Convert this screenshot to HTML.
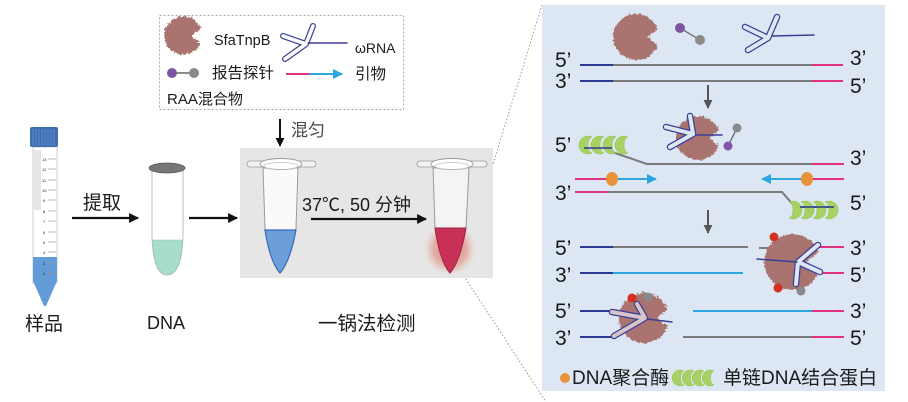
<!DOCTYPE html>
<html><head><meta charset="utf-8"><style>
html,body{margin:0;padding:0;background:#fff;}
svg{display:block;}
text{font-family:"Liberation Sans","Noto Sans CJK SC",sans-serif;fill:#1a1a1a;}
</style></head><body>
<svg width="908" height="402" viewBox="0 0 908 402" xmlns="http://www.w3.org/2000/svg">
<defs>
<filter id="rough" x="-30%" y="-30%" width="160%" height="160%">
<feTurbulence type="fractalNoise" baseFrequency="0.45" numOctaves="2" seed="3" result="n"/>
<feDisplacementMap in="SourceGraphic" in2="n" scale="5" xChannelSelector="R" yChannelSelector="G"/>
</filter>
<radialGradient id="glow" cx="0.5" cy="0.5" r="0.5">
<stop offset="0" stop-color="#d9504a" stop-opacity="0.75"/>
<stop offset="0.65" stop-color="#e07a66" stop-opacity="0.5"/>
<stop offset="1" stop-color="#e8a890" stop-opacity="0"/>
</radialGradient>
<marker id="bk" viewBox="0 0 10 10" refX="9" refY="5" markerWidth="4.5" markerHeight="4.5" orient="auto"><path d="M0,0 L10,5 L0,10 Z" fill="#111"/></marker>
<marker id="gy" viewBox="0 0 10 10" refX="9" refY="5" markerWidth="4.5" markerHeight="4.5" orient="auto"><path d="M0,0 L10,5 L0,10 Z" fill="#555"/></marker>
<marker id="bl" viewBox="0 0 10 10" refX="9" refY="5" markerWidth="5" markerHeight="5" orient="auto"><path d="M0,0 L10,5 L0,10 Z" fill="#2ba6df"/></marker>
</defs>

<line x1="542" y1="5" x2="466" y2="252" stroke="#999" stroke-width="1" stroke-dasharray="1.5 2"/>
<line x1="460" y1="270" x2="546" y2="402" stroke="#999" stroke-width="1" stroke-dasharray="1.5 2"/>

<rect x="159.5" y="15.5" width="244" height="94" fill="#fff" stroke="#aaa" stroke-width="1" stroke-dasharray="2 2"/>
<path d="M200.8,28 A19 19 0 1 0 200.8,43 L191,36 Z" fill="#a9736f" filter="url(#rough)"/>
<text x="214" y="45" font-size="14.5">SfaTnpB</text>
<g fill="none" stroke-linecap="round" stroke-linejoin="round">
<path d="M306,44 L283,36 M306,44 L285,59 M306,44 L313,26" stroke="#3b3f97" stroke-width="6"/>
<path d="M306,44 L283,36 M306,44 L285,59 M306,44 L313,26" stroke="#fff" stroke-width="3.6"/>
<path d="M308,43 L347,43" stroke="#3b3f97" stroke-width="1.5"/>
</g>
<text x="355" y="53" font-size="14">ωRNA</text>
<line x1="172" y1="73" x2="194" y2="73" stroke="#666" stroke-width="1.5"/>
<circle cx="172" cy="73" r="5" fill="#7d55a4"/>
<circle cx="194" cy="73" r="5" fill="#8a8a8a"/>
<text x="212" y="78" font-size="15.5">报告探针</text>
<line x1="286" y1="74" x2="309" y2="74" stroke="#e2327f" stroke-width="2"/>
<line x1="309" y1="74" x2="342" y2="74" stroke="#2ba6df" stroke-width="2" marker-end="url(#bl)"/>
<text x="355" y="79" font-size="15.5">引物</text>
<text x="167" y="104" font-size="15">RAA混合物</text>

<line x1="280" y1="119" x2="280" y2="146" stroke="#111" stroke-width="2" marker-end="url(#bk)"/>
<text x="291" y="136" font-size="17" style="fill:#444">混匀</text>

<rect x="33" y="147" width="24" height="136" fill="#fff" stroke="#cfcfcf" stroke-width="1"/>
<rect x="34" y="150" width="7" height="60" fill="#e6e6e6"/>
<path d="M33,257 L57,257 L57,281 L46,306 L44,306 L33,281 Z" fill="#639ad8"/>
<g stroke="#999" stroke-width="0.7">
<line x1="48" y1="159" x2="56" y2="159"/><line x1="48" y1="169" x2="56" y2="169"/><line x1="48" y1="180" x2="56" y2="180"/><line x1="48" y1="190" x2="56" y2="190"/><line x1="48" y1="200" x2="56" y2="200"/><line x1="48" y1="211" x2="56" y2="211"/><line x1="48" y1="221" x2="56" y2="221"/><line x1="48" y1="232" x2="56" y2="232"/><line x1="48" y1="242" x2="56" y2="242"/><line x1="48" y1="252" x2="56" y2="252"/><line x1="48" y1="263" x2="56" y2="263"/><line x1="48" y1="273" x2="56" y2="273"/>
</g>
<g font-size="4" style="fill:#777">
<text x="42" y="161">13</text><text x="42" y="171">12</text><text x="42" y="182">11</text><text x="42" y="192">10</text><text x="43" y="202">9</text><text x="43" y="213">8</text><text x="43" y="223">7</text><text x="43" y="234">6</text><text x="43" y="244">5</text><text x="43" y="254">4</text><text x="43" y="265">3</text><text x="43" y="275">2</text>
</g>
<rect x="30" y="127" width="28" height="20" rx="2" fill="#3e6db2"/>
<g stroke="#5d8ccc" stroke-width="1"><line x1="33" y1="129" x2="33" y2="146"/><line x1="36" y1="129" x2="36" y2="146"/><line x1="39" y1="129" x2="39" y2="146"/><line x1="42" y1="129" x2="42" y2="146"/><line x1="45" y1="129" x2="45" y2="146"/><line x1="48" y1="129" x2="48" y2="146"/><line x1="51" y1="129" x2="51" y2="146"/><line x1="54" y1="129" x2="54" y2="146"/></g>
<text x="25" y="330" font-size="19">样品</text>

<text x="83" y="209" font-size="19">提取</text>
<line x1="72" y1="218" x2="138" y2="218" stroke="#111" stroke-width="2.2" marker-end="url(#bk)"/>

<path d="M152,170 L152,235 Q153,275 167,275 Q182,275 183,235 L183,170 Z" fill="#fff" stroke="#bdbdbd" stroke-width="1"/>
<path d="M152.5,240 L182.5,240 Q181,274 167,274.5 Q154,274 152.5,240 Z" fill="#a8dccd" stroke="#8fc7b8" stroke-width="0.6"/>
<ellipse cx="167" cy="168" rx="18" ry="5" fill="#777" stroke="#555" stroke-width="0.8"/>
<text x="147" y="329" font-size="18">DNA</text>
<line x1="189" y1="218" x2="237" y2="218" stroke="#111" stroke-width="2.2" marker-end="url(#bk)"/>

<rect x="240" y="148" width="253" height="130" fill="#e6e6e6"/>
<path d="M263,168 L265,228 Q270,262 280,273 Q290,262 296,228 L298,168 Z" fill="#fafafa" stroke="#9a9a9a" stroke-width="1"/>
<path d="M265,230 L296,230 Q290,262 280,273 Q270,262 265,230 Z" fill="#6c9fda" stroke="#3a6bb5" stroke-width="1.2"/>
<rect x="247" y="161" width="69" height="6" rx="3" fill="#f2f2f2" stroke="#999" stroke-width="0.8"/>
<ellipse cx="281" cy="164" rx="21" ry="5.5" fill="#fff" stroke="#999" stroke-width="0.9"/>
<ellipse cx="281" cy="166" rx="17" ry="3.5" fill="none" stroke="#bbb" stroke-width="0.7"/>
<text x="302" y="211" font-size="18">37℃, 50 分钟</text>
<line x1="311" y1="219" x2="426" y2="219" stroke="#111" stroke-width="2.2" marker-end="url(#bk)"/>
<circle cx="450" cy="249" r="26" fill="url(#glow)"/>
<path d="M433,168 L435,228 Q440,262 450,273 Q460,262 466,228 L469,168 Z" fill="#fafafa" fill-opacity="0.7" stroke="#9a9a9a" stroke-width="1"/>
<path d="M435,228 L466,228 Q460,262 450,273 Q440,262 435,228 Z" fill="#c83058" stroke="#9a2a40" stroke-width="1"/>
<rect x="417" y="161" width="70" height="6" rx="3" fill="#f2f2f2" stroke="#999" stroke-width="0.8"/>
<ellipse cx="452" cy="164" rx="21" ry="5.5" fill="#fff" stroke="#999" stroke-width="0.9"/>
<ellipse cx="452" cy="166" rx="17" ry="3.5" fill="none" stroke="#bbb" stroke-width="0.7"/>
<text x="318" y="330" font-size="19.5">一锅法检测</text>

<rect x="542" y="5" width="343" height="386" fill="#dce7f3"/>

<path d="M657.6,29 A23 23 0 1 0 657.6,45 L647.5,37 Z" fill="#a9736f" filter="url(#rough)"/>
<line x1="680" y1="28" x2="700" y2="40" stroke="#666" stroke-width="1.3"/>
<circle cx="680" cy="28" r="5" fill="#7d55a4"/>
<circle cx="700" cy="40" r="5" fill="#8a8a8a"/>
<g fill="none" stroke-linecap="round" stroke-linejoin="round">
<path d="M768,38 L745,27 M768,38 L748,50 M768,38 L777,17" stroke="#3b3f97" stroke-width="6.5"/>
<path d="M768,38 L745,27 M768,38 L748,50 M768,38 L777,17" stroke="#dce7f3" stroke-width="4"/>
<path d="M772,36 L814,35" stroke="#3b3f97" stroke-width="1.5"/>
</g>
<g stroke-width="2">
<line x1="580" y1="65" x2="613" y2="65" stroke="#2b3a8f"/><line x1="613" y1="65" x2="812" y2="65" stroke="#7a7a7a"/><line x1="812" y1="65" x2="843" y2="65" stroke="#e2327f"/>
<line x1="580" y1="81" x2="613" y2="81" stroke="#2b3a8f"/><line x1="613" y1="81" x2="812" y2="81" stroke="#7a7a7a"/><line x1="812" y1="81" x2="843" y2="81" stroke="#e2327f"/>
</g>
<g font-size="21">
<text x="555" y="67">5’</text><text x="850" y="65">3’</text>
<text x="555" y="88">3’</text><text x="850" y="93">5’</text>
</g>
<line x1="708" y1="85" x2="708" y2="108" stroke="#555" stroke-width="2" marker-end="url(#gy)"/>

<g stroke-width="2" fill="none">
<path d="M612,152 L647,164 L812,164" stroke="#7a7a7a"/><line x1="812" y1="164" x2="844" y2="164" stroke="#e2327f"/>
<line x1="575" y1="179" x2="607" y2="179" stroke="#e2327f"/><line x1="612" y1="179" x2="656" y2="179" stroke="#2ba6df" marker-end="url(#bl)"/>
<line x1="810" y1="179" x2="844" y2="179" stroke="#e2327f"/><line x1="805" y1="179" x2="762" y2="179" stroke="#2ba6df" marker-end="url(#bl)"/>
<line x1="575" y1="192" x2="607" y2="192" stroke="#e2327f"/><path d="M607,192 L782,192 L795,207 L835,207" stroke="#7a7a7a"/>
</g>
<ellipse cx="612" cy="179" rx="6" ry="7" fill="#e8923a"/>
<ellipse cx="807" cy="179" rx="6" ry="7" fill="#e8923a"/>
<g fill="#a7d163" stroke="#8fbf4c" stroke-width="0.5">
<path d="M592,137 A9 9 0 1 0 592,153 A4 8 0 0 1 592,137 Z"/>
<path d="M604,137 A9 9 0 1 0 604,153 A4 8 0 0 1 604,137 Z"/>
<path d="M616,137 A9 9 0 1 0 616,153 A4 8 0 0 1 616,137 Z"/>
<path d="M628,137 A9 9 0 1 0 628,153 A4 8 0 0 1 628,137 Z"/>
</g>
<line x1="584" y1="148" x2="612" y2="148" stroke="#2b3a8f" stroke-width="1.5"/>
<g fill="#a7d163" stroke="#8fbf4c" stroke-width="0.5">
<path d="M789,202 A9 9 0 1 1 789,218 A4 8 0 0 0 789,202 Z"/>
<path d="M801,202 A9 9 0 1 1 801,218 A4 8 0 0 0 801,202 Z"/>
<path d="M813,202 A9 9 0 1 1 813,218 A4 8 0 0 0 813,202 Z"/>
<path d="M825,202 A9 9 0 1 1 825,218 A4 8 0 0 0 825,202 Z"/>
</g>
<line x1="800" y1="207" x2="834" y2="207" stroke="#2b3a8f" stroke-width="1.5"/>
<path d="M718.7,130.5 A22 22 0 1 0 718.7,145.5 L709,138 Z" fill="#a9736f" filter="url(#rough)"/>
<g fill="none" stroke-linecap="round" stroke-linejoin="round">
<path d="M693,134 L666,127 M693,134 L670,147 M693,134 L690,116" stroke="#3b3f97" stroke-width="6.5"/>
<path d="M693,134 L666,127 M693,134 L670,147 M693,134 L690,116" stroke="#dce7f3" stroke-width="4"/>
<path d="M696,135 L722,135" stroke="#3b3f97" stroke-width="1.5"/>
</g>
<line x1="728" y1="146" x2="737" y2="128" stroke="#666" stroke-width="1.3"/>
<circle cx="728" cy="146" r="4.5" fill="#7d55a4"/>
<circle cx="737" cy="128" r="4.5" fill="#8a8a8a"/>
<g font-size="21">
<text x="555" y="152">5’</text><text x="850" y="165">3’</text>
<text x="555" y="200">3’</text><text x="850" y="210">5’</text>
</g>
<line x1="708" y1="210" x2="708" y2="233" stroke="#555" stroke-width="2" marker-end="url(#gy)"/>

<g stroke-width="2">
<line x1="580" y1="247" x2="613" y2="247" stroke="#2b3a8f"/><line x1="613" y1="247" x2="748" y2="247" stroke="#7a7a7a"/>
<line x1="759" y1="248" x2="776" y2="248" stroke="#7a7a7a"/><line x1="815" y1="247" x2="844" y2="247" stroke="#e2327f"/>
<line x1="580" y1="273" x2="613" y2="273" stroke="#2b3a8f"/><line x1="613" y1="273" x2="743" y2="273" stroke="#2ba6df"/>
<line x1="815" y1="273" x2="844" y2="273" stroke="#e2327f"/>
<line x1="580" y1="311" x2="617" y2="311" stroke="#2b3a8f"/><line x1="617" y1="311" x2="630" y2="311" stroke="#2ba6df"/>
<line x1="693" y1="311" x2="812" y2="311" stroke="#2ba6df"/><line x1="812" y1="311" x2="844" y2="311" stroke="#e2327f"/>
<line x1="580" y1="337" x2="615" y2="337" stroke="#2b3a8f"/>
<line x1="683" y1="337" x2="812" y2="337" stroke="#7a7a7a"/><line x1="812" y1="337" x2="844" y2="337" stroke="#e2327f"/>
</g>
<path d="M818.3,252 A28 28 0 1 0 818.3,272 L806,262 Z" fill="#a9736f" filter="url(#rough)"/>
<g fill="none" stroke-linecap="round" stroke-linejoin="round">
<path d="M798,262 L818,245 M798,262 L820,272 M798,262 L796,284" stroke="#3b3f97" stroke-width="6.5"/>
<path d="M798,262 L818,245 M798,262 L820,272 M798,262 L796,284" stroke="#dce7f3" stroke-width="4"/>
<path d="M757,259 L797,262" stroke="#3b3f97" stroke-width="1.5"/>
</g>
<circle cx="774" cy="237" r="4.5" fill="#d3321f"/>
<circle cx="778" cy="288" r="4.5" fill="#d3321f"/>
<line x1="793" y1="285" x2="800" y2="290" stroke="#666" stroke-width="1"/>
<circle cx="801" cy="291" r="4.5" fill="#8a8a8a"/>

<path d="M667.5,309.4 A25 25 0 1 0 667.5,326.6 L656.5,318 Z" fill="#a9736f" filter="url(#rough)"/>
<g fill="none" stroke-linecap="round" stroke-linejoin="round">
<path d="M645,318 L612,312 M645,318 L614,336 M645,318 L637,304" stroke="#3b3f97" stroke-width="6.5"/>
<path d="M645,318 L612,312 M645,318 L614,336 M645,318 L637,304" stroke="#d8c4c8" stroke-width="4"/>
<path d="M647,319 L672,322" stroke="#3b3f97" stroke-width="1.5"/>
</g>
<circle cx="632" cy="298" r="4.5" fill="#d3321f"/>
<line x1="642" y1="291" x2="647" y2="296" stroke="#666" stroke-width="1"/>
<circle cx="648" cy="297" r="4.5" fill="#8a8a8a"/>
<g font-size="21">
<text x="555" y="255">5’</text><text x="850" y="255">3’</text>
<text x="555" y="282">3’</text><text x="850" y="282">5’</text>
<text x="555" y="318">5’</text><text x="850" y="318">3’</text>
<text x="555" y="345">3’</text><text x="850" y="345">5’</text>
</g>

<circle cx="565" cy="378" r="5" fill="#e8923a"/>
<text x="572" y="384" font-size="19">DNA聚合酶</text>
<g fill="#a7d163" stroke="#8fbf4c" stroke-width="0.5">
<path d="M684,371 A8 8 0 1 0 684,385 A3.5 7 0 0 1 684,371 Z"/>
<path d="M694,371 A8 8 0 1 0 694,385 A3.5 7 0 0 1 694,371 Z"/>
<path d="M704,371 A8 8 0 1 0 704,385 A3.5 7 0 0 1 704,371 Z"/>
<path d="M714,371 A8 8 0 1 0 714,385 A3.5 7 0 0 1 714,371 Z"/>
</g>
<text x="723" y="384" font-size="19">单链DNA结合蛋白</text>
</svg>
</body></html>
